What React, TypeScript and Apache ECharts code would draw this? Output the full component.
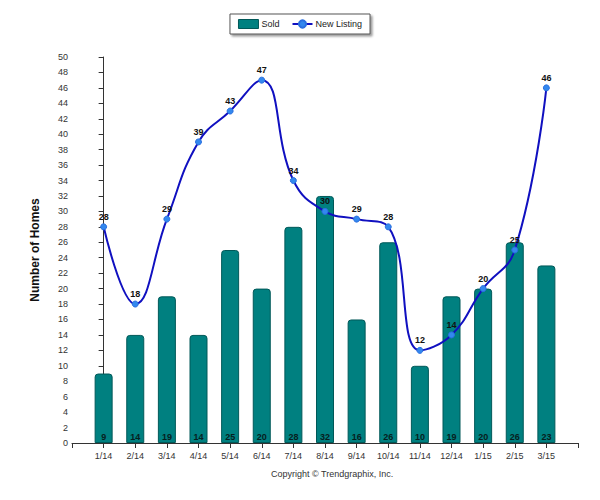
import React, { useEffect, useRef } from "react";
import * as echarts from "echarts";

const categories = ["1/14", "2/14", "3/14", "4/14", "5/14", "6/14", "7/14", "8/14", "9/14", "10/14", "11/14", "12/14", "1/15", "2/15", "3/15"];
const soldValues = [9, 14, 19, 14, 25, 20, 28, 32, 16, 26, 10, 19, 20, 26, 23];
const newListingValues = [28, 18, 29, 39, 43, 47, 34, 30, 29, 28, 12, 14, 20, 25, 46];
const yTicks = { min: 0, max: 50, interval: 2 };

export default function App() {
  const ref = useRef<HTMLDivElement>(null);
  useEffect(() => {
    if (!ref.current) return;
    const chart = echarts.init(ref.current, null, { renderer: "svg" });
    const font = "Liberation Sans, Arial, sans-serif";
    chart.setOption({
      animation: false,
      textStyle: { fontFamily: font },
      legend: {
        top: 14,
        left: "center",
        orient: "horizontal",
        padding: [5, 8, 5, 8],
        itemGap: 12,
        itemWidth: 20,
        itemHeight: 9,
        borderColor: "#555",
        borderWidth: 1,
        shadowColor: "rgba(0,0,0,0.4)",
        shadowOffsetX: 2,
        shadowOffsetY: 2,
        shadowBlur: 2,
        backgroundColor: "#fff",
        textStyle: { fontSize: 9, color: "#222", fontFamily: font, padding: [0, 0, 0, -2] },
        data: [
          { name: "Sold", icon: "rect", itemStyle: { color: "#008080", borderColor: "#005858", borderWidth: 1 } },
          { name: "New Listing" },
        ],
      },
      grid: { left: 72, right: 22, top: 57, bottom: 57 },
      xAxis: {
        type: "value",
        min: -1,
        max: 15,
        interval: 1,
        splitLine: { show: false },
        axisLine: { show: true, lineStyle: { color: "#333", width: 1 } },
        axisTick: { show: true, length: 5, lineStyle: { color: "#333" } },
        axisLabel: {
          fontSize: 9,
          color: "#333",
          margin: 8,
          fontFamily: font,
          formatter: (v: number) => (v >= 0 && v < categories.length ? categories[v] : ""),
        },
      },
      yAxis: {
        type: "value",
        min: yTicks.min,
        max: yTicks.max,
        interval: yTicks.interval,
        name: "Number of Homes",
        nameLocation: "middle",
        nameGap: 31,
        nameTextStyle: { fontSize: 12, fontWeight: "bold", color: "#111", fontFamily: font },
        splitLine: { show: false },
        axisLine: { show: true, lineStyle: { color: "#333", width: 1 } },
        axisTick: { show: true, length: 5, lineStyle: { color: "#333" } },
        axisLabel: { fontSize: 9, color: "#333", margin: 4, fontFamily: font },
      },
      series: [
        {
          name: "Sold",
          type: "bar",
          barWidth: 18,
          data: soldValues.map((v, i) => [i, v]),
          itemStyle: { color: "#008080", borderColor: "#005858", borderWidth: 1, borderRadius: [3, 3, 0, 0] },
          label: {
            show: true,
            position: "insideBottom",
            distance: 2,
            fontSize: 9,
            fontWeight: "bold",
            color: "#062020",
            textBorderWidth: 0,
            fontFamily: font,
            formatter: (p: any) => String(p.value[1]),
          },
        },
        {
          name: "New Listing",
          type: "line",
          smooth: 0.45,
          data: newListingValues.map((v, i) => [i, v]),
          lineStyle: { color: "#1010c0", width: 2 },
          itemStyle: { color: "#3388ee", borderColor: "#2a6fe0", borderWidth: 1 },
          symbol: "circle",
          symbolSize: 6,
          label: {
            show: true,
            position: "top",
            distance: 2,
            fontSize: 9,
            fontWeight: "bold",
            color: "#111",
            textBorderWidth: 0,
            fontFamily: font,
            formatter: (p: any) => String(p.value[1]),
          },
          z: 3,
        },
      ],
      graphic: [
        {
          type: "text",
          left: 271,
          top: 469,
          style: { text: "Copyright © Trendgraphix, Inc.", fontSize: 9, fill: "#333", fontFamily: font },
        },
      ],
    });
    return () => chart.dispose();
  }, []);
  return <div ref={ref} style={{ width: 600, height: 500, position: "absolute", left: 0, top: 0 }} />;
}
